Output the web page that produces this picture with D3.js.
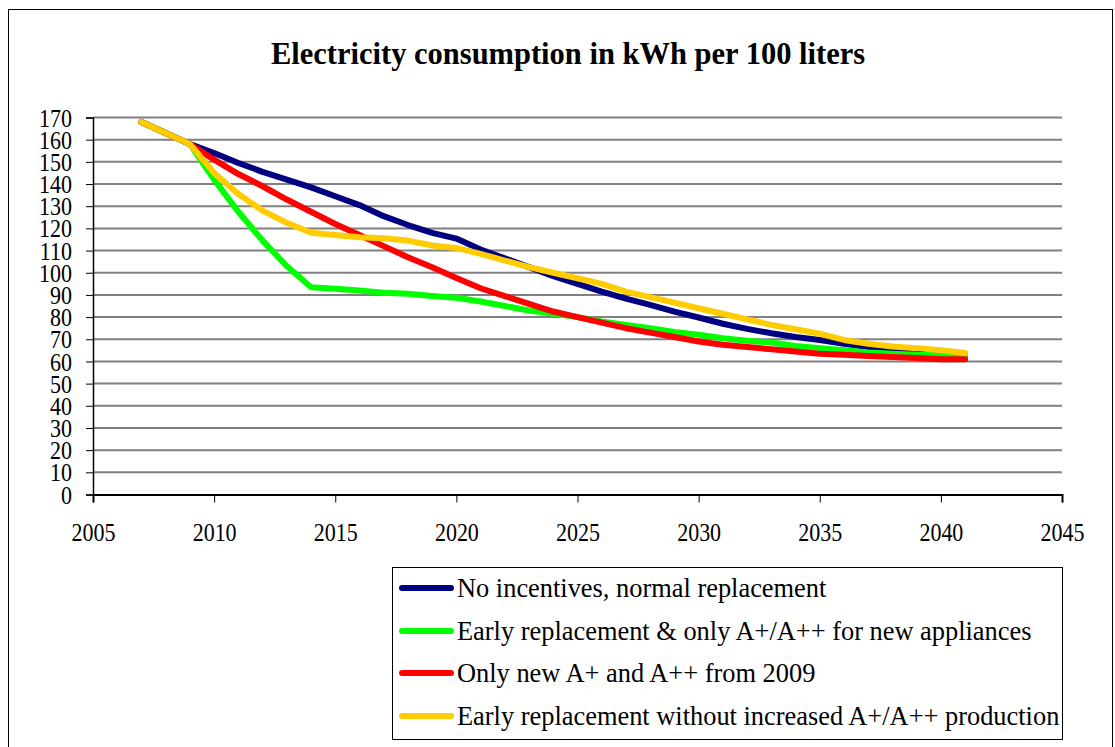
<!DOCTYPE html>
<html><head><meta charset="utf-8">
<script src="https://cdn.jsdelivr.net/npm/d3@7"></script>
<style>body{margin:0;background:#fff;} svg{display:block;}</style>
</head><body>
<svg id="chart" width="1115" height="747"></svg>
<script>
const title = "Electricity consumption in kWh per 100 liters";
const years = d3.range(2007, 2042);
const seriesNames = [
  "No incentives, normal replacement",
  "Early replacement & only A+/A++ for new appliances",
  "Only new A+ and A++ from 2009",
  "Early replacement without increased A+/A++ production"
];
const seriesColors = ["#000080", "#00FF00", "#FF0000", "#FFCC00"];
const noIncentives = [168,163,158,154,149.5,145.5,142,138.5,134.5,130.5,125.5,121.5,118,115.4,110.5,106.5,102.5,98.5,95,91.5,88.3,85.5,82.5,79.8,77,74.7,72.7,71,69.7,68,66.5,65.5,64.5,63.5,62.5];
const earlyReplacement = [168,163,158,142,127.5,114.5,103,93.5,92.8,92,91,90.5,89.5,88.7,87,85,83,81.5,80,78,76.5,75,73.3,72,70.5,69.3,68.5,67,66,65,64,63.5,63,62.8,62.5];
const onlyNewAplus = [168,163,158,151,144.5,139,133,127.5,122,117,112,107,102.5,97.6,93,89.5,86,82.5,80,77.5,75,73,71,69,67.5,66.5,65.5,64.5,63.5,63,62.5,62,61.5,61,61];
const earlyNoProduction = [168,163,158,145,135.5,128,122.5,118,117,116,115.5,114.5,112.3,111.2,108.5,105.5,102.5,100,97.5,95,91.5,89,86.5,84,81.5,79,76.5,74.5,72.5,69.7,68,66.7,66,65,63.8];
const xTicks = [2005,2010,2015,2020,2025,2030,2035,2040,2045];
const yTicks = d3.range(0, 171, 10);

const allSeries = [noIncentives, earlyReplacement, onlyNewAplus, earlyNoProduction];
const serif = "'Liberation Serif', 'Times New Roman', serif";
const vStretch = 1.17;

const svg = d3.select("#chart");
const x = d3.scaleLinear().domain([2005, 2045]).range([93, 1062]);
const y = d3.scaleLinear().domain([0, 170]).range([494.5, 117.5]);

// outer frame
svg.append("rect").attr("x", 8.5).attr("y", 9.5).attr("width", 1104).attr("height", 760)
  .attr("fill", "none").attr("stroke", "#000").attr("stroke-width", 1);

// title
svg.append("text").attr("x", 568).attr("y", 64).attr("text-anchor", "middle")
  .attr("font-family", serif).attr("font-weight", "bold")
  .attr("font-size", 30.5).attr("fill", "#000").text(title);

// gridlines
svg.append("g").selectAll("line").data(yTicks.filter(d => d > 0)).join("line")
  .attr("x1", x(2005)).attr("x2", x(2045))
  .attr("y1", d => y(d)).attr("y2", d => y(d))
  .attr("stroke", "#808080").attr("stroke-width", 2);

// y axis
const yAxis = svg.append("g").attr("transform", `translate(${x(2005)},0)`)
  .call(d3.axisLeft(y).tickValues(yTicks).tickSize(7).tickPadding(14).tickFormat(d3.format("d")));
// x axis
const xAxis = svg.append("g").attr("transform", `translate(0,${y(0)})`)
  .call(d3.axisBottom(x).tickValues(xTicks).tickSize(8).tickFormat(d3.format("d")));
[yAxis, xAxis].forEach(a => {
  a.select(".domain").attr("stroke", "#000").attr("stroke-width", 1.5);
  a.selectAll(".tick line").attr("stroke", "#000").attr("stroke-width", 1);
  a.selectAll("text").attr("font-family", serif)
    .attr("font-size", 22).attr("fill", "#000");
});
yAxis.selectAll(".tick text").attr("dy", null).attr("y", 0)
  .attr("dominant-baseline", "central")
  .attr("transform", `scale(1,${vStretch})`);
xAxis.selectAll(".tick text").attr("dy", null).attr("y", 47 / vStretch)
  .attr("transform", `scale(1,${vStretch})`);
xAxis.select(".domain").attr("stroke-width", 2);

// lines
const line = d3.line().x((d, i) => x(years[i])).y(d => y(d));
svg.append("g").selectAll("path").data(allSeries).join("path")
  .attr("d", d => line(d)).attr("fill", "none")
  .attr("stroke", (d, i) => seriesColors[i]).attr("stroke-width", 6)
  .attr("stroke-linejoin", "round").attr("stroke-linecap", "round");

// legend
const lg = svg.append("g");
lg.append("rect").attr("x", 392.5).attr("y", 567.5).attr("width", 670).attr("height", 172)
  .attr("fill", "#fff").attr("stroke", "#000").attr("stroke-width", 1);
const rowY = [588, 631, 673, 716];
seriesNames.forEach((name, i) => {
  lg.append("line").attr("x1", 402).attr("x2", 451).attr("y1", rowY[i]).attr("y2", rowY[i])
    .attr("stroke", seriesColors[i]).attr("stroke-width", 6).attr("stroke-linecap", "round");
  lg.append("text").attr("x", 457).attr("y", rowY[i]).attr("dy", "0.33em")
    .attr("font-family", serif).attr("font-size", 26.4)
    .attr("fill", "#000").text(name);
});
</script>
</body></html>
